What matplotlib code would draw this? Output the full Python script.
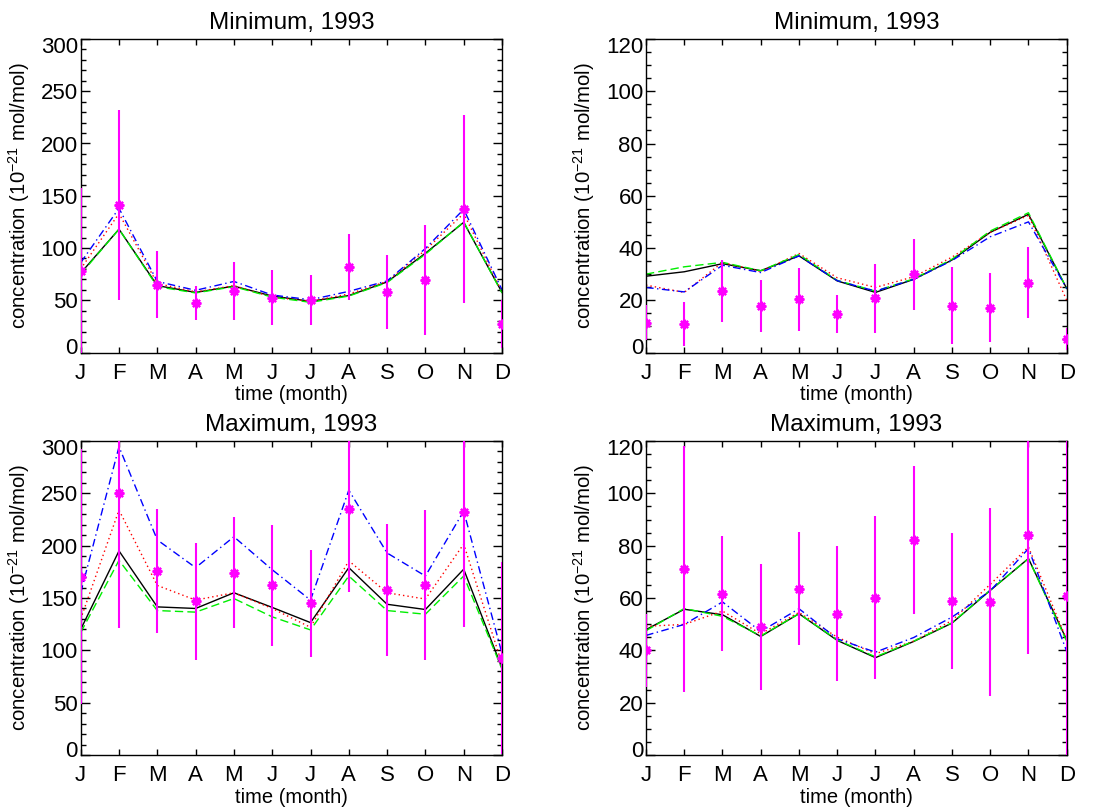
import matplotlib
matplotlib.use("Agg")
import matplotlib.pyplot as plt
import matplotlib.transforms as mtransforms
import numpy as np

plt.rcParams['font.family'] = ['Liberation Sans', 'DejaVu Sans']
plt.rcParams['mathtext.fontset'] = 'custom'
plt.rcParams['mathtext.rm'] = 'Liberation Sans'
plt.rcParams['mathtext.it'] = 'Liberation Sans:italic'
plt.rcParams['mathtext.bf'] = 'Liberation Sans:bold'

months = ['J', 'F', 'M', 'A', 'M', 'J', 'J', 'A', 'S', 'O', 'N', 'D']
titles = ['Minimum, 1993', 'Minimum, 1993', 'Maximum, 1993', 'Maximum, 1993']

# ---- Top-left: Minimum (0-300)
tl_black = [76, 118, 64, 57.5, 63.5, 54, 49, 54.5, 67.5, 95, 124.5, 57.5]
tl_green = [75, 118, 63, 57, 63, 53, 48, 54, 67, 94, 125, 57]
tl_red = [80, 133, 66, 58, 64, 53, 49, 56, 68, 98, 133, 58]
tl_blue = [86, 138, 68, 59.5, 68, 55, 50.5, 58.5, 68.5, 99.5, 137, 60]
tl_obs = [78, 141.5, 65, 47.5, 59, 52.5, 50.5, 81.5, 58, 69.5, 137.5, 27]
tl_err = [79, 91, 32, 16, 28, 26, 24, 31.5, 35.5, 52.5, 90, 23]

# ---- Top-right: Minimum (0-120)
tr_black = [29.2, 30.9, 34, 31.3, 37, 27.4, 23, 28, 35.4, 46, 52.9, 24.5]
tr_green = [30, 32.8, 34.5, 31.3, 37.5, 27.6, 23.5, 28.2, 35.7, 46.5, 53.5, 24.5]
tr_red = [25.8, 23, 34.5, 31, 37.9, 28.6, 24.9, 29, 36.5, 46, 52.5, 20]
tr_blue = [24.9, 23.2, 33.4, 30.6, 37, 27.5, 23.5, 28, 35.2, 44.3, 50, 24.5]
tr_obs = [11.4, 10.9, 23.5, 17.9, 20.3, 14.7, 20.7, 29.9, 17.9, 17.2, 26.7, 5]
tr_err = [6.7, 8.6, 12, 9.9, 12, 7.3, 13.3, 13.7, 14.8, 13.3, 13.6, 4.2]

# ---- Bottom-left: Maximum (0-300)
bl_black = [120, 195, 141.5, 140, 155, 141, 126.5, 179, 144, 139, 177.5, 83]
bl_green = [117, 186, 138, 136.5, 149.5, 132, 119.5, 171, 138, 134.5, 171, 82]
bl_red = [130, 234, 162, 148, 155, 140, 122, 185.5, 155, 149, 201.5, 87]
bl_blue = [155, 294.5, 205.5, 179, 208.5, 177, 148, 253, 193, 171, 233, 97]
bl_obs = [170.5, 250, 176, 147, 174, 162, 145, 235.5, 157.5, 162.5, 232.5, 92.5]
bl_err = [122, 129, 59.5, 56, 53, 57.5, 51, 80, 63, 72, 110, 92]

# ---- Bottom-right: Maximum (0-120)
br_black = [47.9, 55.7, 53.6, 45.3, 54, 43.8, 37.2, 43.4, 50.4, 62.9, 75.1, 44]
br_green = [47.5, 56, 53, 45.5, 54, 44, 37.5, 43.5, 50.5, 63, 75, 43.5]
br_red = [49.2, 49.9, 55, 46.3, 54.5, 45, 38.7, 43.5, 51.4, 65.2, 79.5, 44]
br_blue = [45.7, 49.9, 58.5, 47.2, 55.9, 44.4, 39.3, 44.9, 52.7, 62.7, 78.9, 39.6]
br_obs = [40, 70.9, 61.7, 48.9, 63.6, 54, 60.1, 82.1, 58.7, 58.5, 84, 60.6]
br_err = [14, 47, 22, 24, 21.5, 25.7, 31.2, 28.4, 26, 36, 45.3, 65]

panels = [
    (tl_black, tl_green, tl_red, tl_blue, tl_obs, tl_err, 300, 50, 10),
    (tr_black, tr_green, tr_red, tr_blue, tr_obs, tr_err, 120, 20, 5),
    (bl_black, bl_green, bl_red, bl_blue, bl_obs, bl_err, 300, 50, 10),
    (br_black, br_green, br_red, br_blue, br_obs, br_err, 120, 20, 5),
]

W, H = 1101, 808
fig = plt.figure(figsize=(W / 100, H / 100), dpi=100)

boxes = [
    (80.7, 39, 502, 352.5),
    (646, 39, 1066.7, 352.5),
    (80.7, 441, 502, 755),
    (646, 441, 1066.7, 755),
]

x = np.arange(len(months))

for (l, t, r, b), title, (blk, grn, red, blu, obs, err, ymax, major, minor) in zip(boxes, titles, panels):
    ax = fig.add_axes([l / W, 1 - b / H, (r - l) / W, (b - t) / H])
    ax.plot(x, blk, color='black', lw=1.0, zorder=2)
    ax.plot(x, red, color='#ff0000', lw=1.0, dashes=(1, 2.2), zorder=2)
    ax.plot(x, grn, color='#00ee00', lw=1.0, dashes=(6, 3), zorder=2)
    ax.plot(x, blu, color='#0000ff', lw=1.0, dashes=(5.5, 2.5, 1, 2.5), zorder=2)
    ax.errorbar(x, obs, yerr=err, fmt='none', ecolor='#ff00ff', elinewidth=1.5, capsize=0, zorder=3)
    ax.plot(x, obs, ls='none', marker=(8, 2, 0), ms=7, mec='#ff00ff', mew=1.6, zorder=3)

    ax.set_xlim(0, len(months) - 1)
    ax.set_ylim(0, ymax)
    ax.set_xticks(x)
    ax.set_xticklabels(months)
    ax.set_yticks(np.arange(0, ymax + 0.1, major))
    ax.set_yticks(np.arange(0, ymax + 0.1, minor), minor=True)

    ax.tick_params(axis='x', which='major', direction='in', top=True, bottom=True,
                   length=4, width=1, labelsize=16, pad=7.5)
    ax.tick_params(axis='y', which='major', direction='in', left=True, right=True,
                   length=6.5, width=1, labelsize=16, pad=2)
    ax.tick_params(axis='y', which='minor', direction='in', left=True, right=True,
                   length=3.6, width=1)
    ax.tick_params(axis='x', which='minor', bottom=False, top=False)
    for sp in ax.spines.values():
        sp.set_linewidth(1.0)

    ax.set_title(title, fontsize=17.5, pad=7)
    ax.set_xlabel('time (month)', fontsize=14.5, labelpad=1)
    ax.set_ylabel('concentration (10$^{-21}$ mol/mol)', fontsize=14.7)
    ax.yaxis.set_label_coords(-0.116, 0.5)

    yt = ax.yaxis.get_major_ticks()
    up = mtransforms.ScaledTranslation(0, 6 / 100, fig.dpi_scale_trans)
    down = mtransforms.ScaledTranslation(0, -6 / 100, fig.dpi_scale_trans)
    yt[0].label1.set_transform(yt[0].label1.get_transform() + up)
    yt[-1].label1.set_transform(yt[-1].label1.get_transform() + down)

fig.savefig('out.png', dpi=100)
